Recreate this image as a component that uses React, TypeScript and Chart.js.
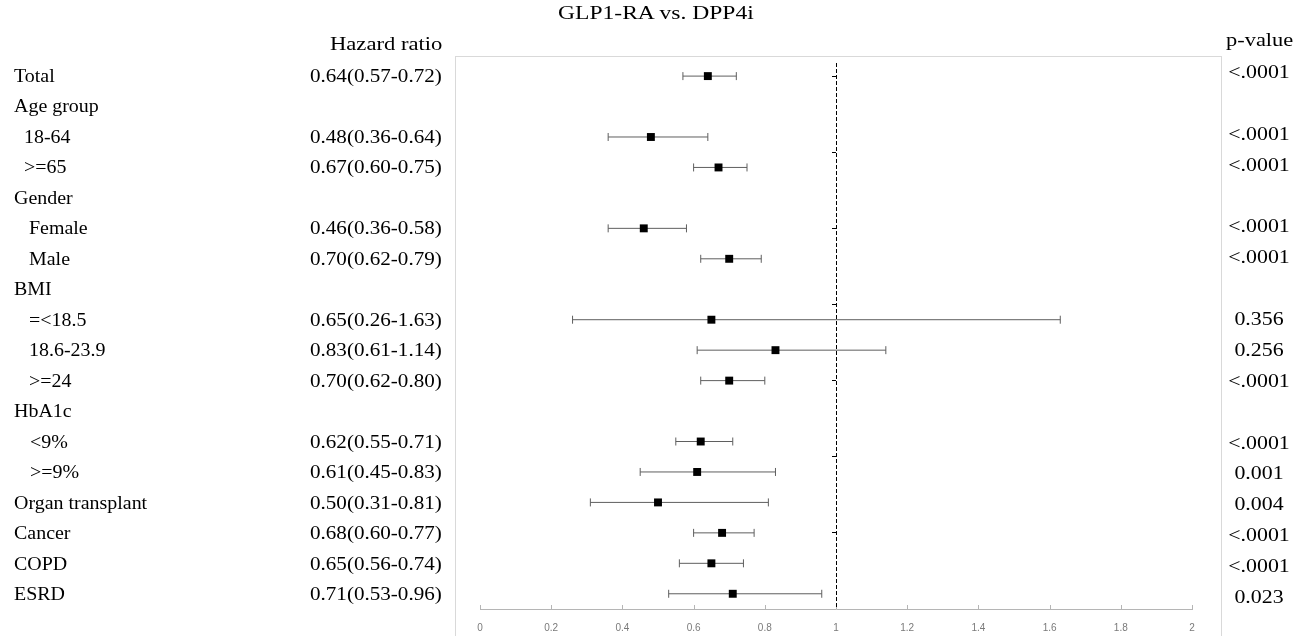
import React, { useEffect, useRef } from "react";
import { Chart, registerables } from "chart.js";

Chart.register(...registerables);

// ---- data ----
const rowLabels = [
  "Total", "Age group", "18-64", ">=65", "Gender", "Female", "Male", "BMI",
  "=<18.5", "18.6-23.9", ">=24", "HbA1c", "<9%", ">=9%", "Organ transplant",
  "Cancer", "COPD", "ESRD",
];
const rowIndent = [0, 0, 10, 10, 0, 15, 15, 0, 15, 15, 15, 0, 16, 16, 0, 0, 0, 0];
const hazardRatio = [0.64, null, 0.48, 0.67, null, 0.46, 0.70, null, 0.65, 0.83, 0.70, null, 0.62, 0.61, 0.50, 0.68, 0.65, 0.71];
const ciLower = [0.57, null, 0.36, 0.60, null, 0.36, 0.62, null, 0.26, 0.61, 0.62, null, 0.55, 0.45, 0.31, 0.60, 0.56, 0.53];
const ciUpper = [0.72, null, 0.64, 0.75, null, 0.58, 0.79, null, 1.63, 1.14, 0.80, null, 0.71, 0.83, 0.81, 0.77, 0.74, 0.96];
const pValues = ["<.0001", null, "<.0001", "<.0001", null, "<.0001", "<.0001", null, "0.356", "0.256", "<.0001", null, "<.0001", "0.001", "0.004", "<.0001", "<.0001", "0.023"];
const refAxisTicks = [0, 2.5, 5, 7.5, 10, 12.5, 15];
const referenceHR = 1;
const titleText = "GLP1-RA vs. DPP4i";
const hrHeader = "Hazard ratio";
const pHeader = "p-value";

// ---- layout constants ----
const W = 1297;
const H = 636;
const ROW_TOP = 76;
const ROW_STEP = 30.47;
const P_TOP = 72;
const P_STEP = 30.88;

const fmt = (v: number) => v.toFixed(2);

const overlayMarks = {
  id: "overlayMarks",
  afterDatasetsDraw(chart: any) {
    const { ctx, chartArea } = chart;
    const x = chart.scales.x;
    ctx.save();
    // upward tick marks on the x axis
    ctx.strokeStyle = "#b5b5b5";
    ctx.lineWidth = 1;
    x.ticks.forEach((t: any) => {
      const px = Math.round(x.getPixelForValue(t.value)) + 0.5;
      ctx.beginPath();
      ctx.moveTo(px, chartArea.bottom);
      ctx.lineTo(px, chartArea.bottom - 4);
      ctx.stroke();
    });
    // dashed reference line at HR = 1
    const rx = Math.round(x.getPixelForValue(referenceHR)) + 0.5;
    ctx.strokeStyle = "#000";
    ctx.setLineDash([4, 2]);
    ctx.beginPath();
    ctx.moveTo(rx, chartArea.top);
    ctx.lineTo(rx, chartArea.bottom);
    ctx.stroke();
    ctx.restore();
  },
};

function ForestChart() {
  const ref = useRef<HTMLCanvasElement | null>(null);
  useEffect(() => {
    if (!ref.current) return;
    const whiskers: any[] = [];
    rowLabels.forEach((_, i) => {
      const lo = ciLower[i];
      const hi = ciUpper[i];
      if (lo == null || hi == null) return;
      whiskers.push({
        type: "scatter",
        showLine: true,
        data: [{ x: lo, y: i }, { x: hi, y: i }],
        borderColor: "#5f5f5f",
        borderWidth: 1,
        pointStyle: "line",
        rotation: 90,
        pointRadius: 4,
        pointBorderColor: "#5f5f5f",
        pointBorderWidth: 1,
        order: 2,
      });
    });
    const markers = {
      type: "scatter",
      data: hazardRatio
        .map((v, i) => (v == null ? null : { x: v, y: i }))
        .filter((d) => d != null),
      pointStyle: "rect",
      pointRadius: 5.6,
      backgroundColor: "#000",
      borderColor: "#000",
      pointBorderWidth: 0,
      order: 1,
    };
    const chart = new Chart(ref.current, {
      type: "scatter",
      data: { datasets: [...whiskers, markers] as any },
      options: {
        animation: false,
        responsive: false,
        events: [],
        layout: { padding: { left: 480, right: 105, top: 63, bottom: 0 } },
        plugins: { legend: { display: false }, tooltip: { enabled: false }, title: { display: false } },
        scales: {
          x: {
            type: "linear",
            min: 0,
            max: 2,
            ticks: {
              stepSize: 0.2,
              color: "#7a7a7a",
              font: { family: "'Liberation Sans', Arial, sans-serif", size: 10 },
              padding: 5,
              callback: (v: any) => String(Number(Number(v).toFixed(1))),
            },
            grid: { display: false },
            border: { display: true, color: "#b5b5b5", width: 1 },
            afterFit: (s: any) => {
              s.height = 27;
            },
          },
          y: {
            type: "linear",
            reverse: true,
            min: -0.43,
            max: 17.5,
            position: { x: referenceHR } as any,
            afterBuildTicks: (s: any) => {
              s.ticks = refAxisTicks.map((v) => ({ value: v }));
            },
            ticks: { display: false },
            grid: { display: true, drawOnChartArea: false, drawTicks: true, tickLength: 4, color: "#000", lineWidth: 1 },
            border: { display: false },
          },
        },
      },
      plugins: [overlayMarks],
    } as any);
    return () => chart.destroy();
  }, []);
  return <canvas ref={ref} width={W} height={H} style={{ position: "absolute", left: 0, top: 0, width: W, height: H }} />;
}

function Txt(props: { x: number; y: number; children: any; sx?: number; origin?: string; style?: any }) {
  return (
    <div
      style={{
        position: "absolute",
        left: props.x,
        top: props.y - 11,
        lineHeight: "22px",
        whiteSpace: "nowrap",
        transform: `scaleX(${props.sx ?? 1})`,
        transformOrigin: props.origin ?? "left center",
        ...props.style,
      }}
    >
      {props.children}
    </div>
  );
}

export default function App() {
  return (
    <div
      style={{
        position: "absolute",
        left: 0,
        top: 0,
        width: W,
        height: H,
        overflow: "hidden",
        background: "#fff",
        fontFamily: "'Liberation Serif', 'Times New Roman', serif",
        fontSize: 19,
        color: "#000",
      }}
    >
      <div
        style={{
          position: "absolute",
          left: 455,
          top: 56,
          width: 767,
          height: 640,
          border: "1px solid #d9d9d9",
          boxSizing: "border-box",
        }}
      />
      <ForestChart />
      <Txt x={558} y={13} sx={1.24}>{titleText}</Txt>
      <Txt x={330} y={44} sx={1.19}>{hrHeader}</Txt>
      <Txt x={1226} y={40} sx={1.18}>{pHeader}</Txt>
      {rowLabels.map((lab, i) => (
        <Txt key={"l" + i} x={14 + rowIndent[i]} y={ROW_TOP + ROW_STEP * i} sx={1.05}>
          {lab}
        </Txt>
      ))}
      {rowLabels.map((_, i) =>
        hazardRatio[i] == null ? null : (
          <Txt key={"h" + i} x={310} y={ROW_TOP + ROW_STEP * i} sx={1.11}>
            {`${fmt(hazardRatio[i] as number)}(${fmt(ciLower[i] as number)}-${fmt(ciUpper[i] as number)})`}
          </Txt>
        )
      )}
      {pValues.map((p, i) =>
        p == null ? null : (
          <Txt
            key={"p" + i}
            x={1219}
            y={P_TOP + P_STEP * i}
            sx={1.15}
            origin="center center"
            style={{ width: 80, textAlign: "center" }}
          >
            {p}
          </Txt>
        )
      )}
    </div>
  );
}
